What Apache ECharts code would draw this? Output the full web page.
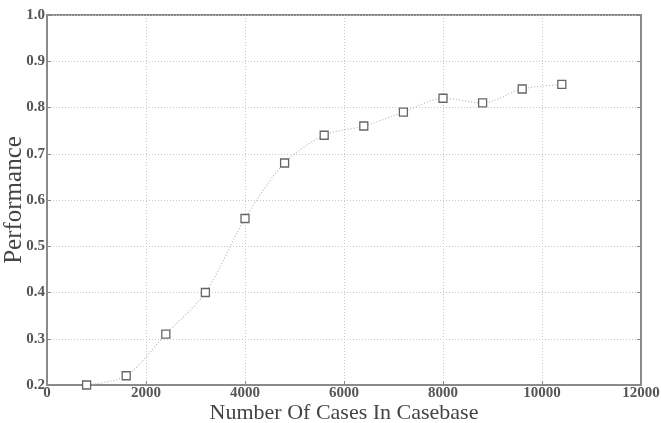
<!DOCTYPE html>
<html><head><meta charset="utf-8">
<script src="https://cdn.jsdelivr.net/npm/echarts@6/dist/echarts.min.js"></script>
<style>html,body{margin:0;padding:0;background:#fff}#c{width:661px;height:423px}</style>
</head><body><div id="c"></div>
<script>
const casesX = [800,1600,2400,3200,4000,4800,5600,6400,7200,8000,8800,9600,10400];
const performance = [0.20,0.22,0.31,0.40,0.56,0.68,0.74,0.76,0.79,0.82,0.81,0.84,0.85];
const xTitle = 'Number Of Cases In Casebase';
const yTitle = 'Performance';

const chart = echarts.init(document.getElementById('c'));
const font = '"Liberation Serif", "DejaVu Serif", serif';
const axisCol = '#8a8a8a';
const gridLine = {show:true, lineStyle:{color:'#c8c8c8', type:[1,2], width:1}};
chart.setOption({
  animation:false,
  backgroundColor:'#fff',
  grid:{left:47, right:20, top:15, bottom:38, containLabel:false, outerBoundsMode:'none',
        show:true, borderColor:axisCol, borderWidth:2},
  xAxis:[{
    type:'value', min:0, max:12000, interval:2000,
    axisLine:{show:true, onZero:false, lineStyle:{color:axisCol, width:2}},
    axisTick:{show:true, inside:true, length:4, lineStyle:{color:axisCol}},
    axisLabel:{color:'#555', fontFamily:font, fontSize:15, fontWeight:'bold', margin:1,
      formatter:v=>String(v)},
    splitLine:gridLine,
    name:xTitle, nameLocation:'middle', nameGap:17, nameMoveOverlap:false,
    nameTextStyle:{color:'#444', fontFamily:font, fontSize:22}
  }],
  yAxis:[{
    type:'value', min:0.2, max:1.0, interval:0.1,
    axisLine:{show:true, lineStyle:{color:axisCol, width:2}},
    axisTick:{show:true, inside:true, length:4, lineStyle:{color:axisCol}},
    axisLabel:{color:'#555', fontFamily:font, fontSize:15, fontWeight:'bold', margin:2,
      formatter:v=>v.toFixed(1)},
    splitLine:gridLine,
    name:yTitle, nameLocation:'middle', nameGap:20, nameMoveOverlap:false,
    nameTextStyle:{color:'#444', fontFamily:font, fontSize:25}
  },{
    type:'value', min:0.2, max:1.0, interval:0.1, position:'right',
    axisLine:{show:true, lineStyle:{color:axisCol, width:2}},
    axisTick:{show:true, inside:true, length:4, lineStyle:{color:axisCol}},
    axisLabel:{show:false}, splitLine:{show:false}
  }],
  series:[{
    type:'line', yAxisIndex:0,
    data:casesX.map((x,i)=>[x, performance[i]]),
    smooth:0.3,
    symbol:'rect', symbolSize:8,
    itemStyle:{color:'#fff', borderColor:'#666', borderWidth:1.3},
    lineStyle:{color:'#b8b8b8', type:[1,2], width:1.2}
  }]
});
</script></body></html>
